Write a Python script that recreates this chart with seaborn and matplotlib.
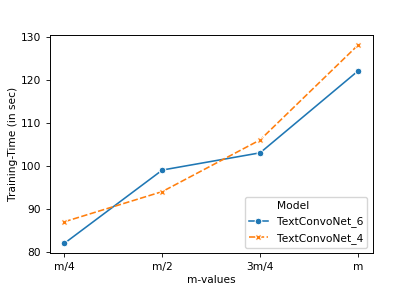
import pandas as pd
import matplotlib
matplotlib.use("Agg")
import matplotlib.pyplot as plt
import seaborn as sns
from matplotlib.lines import Line2D

# data
m_values = ["m/4", "m/2", "3m/4", "m"]
net6_time = [82, 99, 103, 122]
net4_time = [87, 94, 106, 128]
models = ["TextConvoNet_6", "TextConvoNet_4"]

df = pd.DataFrame({
    "m-values": m_values * 2,
    "Training-Time (in sec)": net6_time + net4_time,
    "Model": [models[0]] * 4 + [models[1]] * 4,
})

fs = 7.7
plt.rcParams["font.family"] = ["DejaVu Sans"]
plt.rcParams["font.size"] = fs

fig, ax = plt.subplots(figsize=(4.15, 2.91), dpi=100)
fig.subplots_adjust(left=0.12, right=0.898, top=0.879, bottom=0.13)

sns.lineplot(data=df, x="m-values", y="Training-Time (in sec)",
             hue="Model", style="Model", markers=True, sort=False,
             linewidth=1.15, markersize=4.8, ax=ax)

ax.tick_params(labelsize=fs, length=2.8, width=0.6)
for s in ax.spines.values():
    s.set_linewidth(0.7)
ax.set_xlabel("m-values", fontsize=fs, labelpad=2.5)
ax.set_ylabel("Training-Time (in sec)", fontsize=fs, labelpad=2)

# old-style legend: title shown as a blank entry
handles, labels = ax.get_legend_handles_labels()
blank = Line2D([], [], linestyle="none", marker=None)
ax.legend([blank] + handles, ["Model"] + labels, loc="lower right",
          fontsize=fs, frameon=True, handlelength=1.8)

fig.savefig("out.png", dpi=100)
